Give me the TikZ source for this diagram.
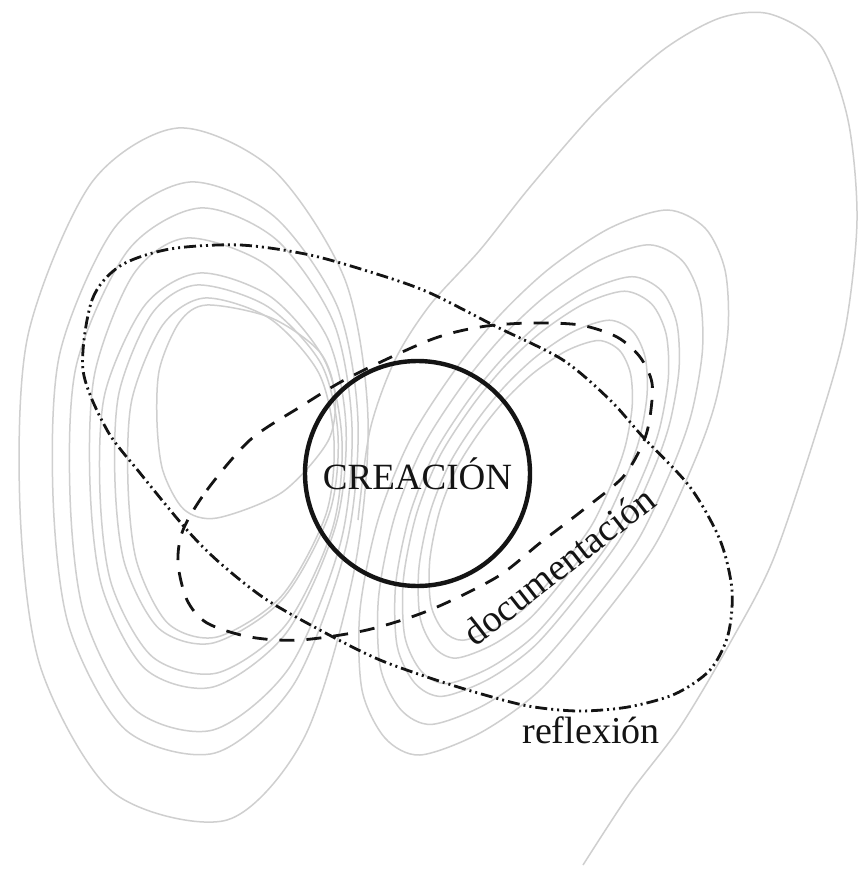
\documentclass[tikz,border=0pt]{standalone}
\usepackage{fontspec}
\setmainfont{Liberation Serif}
\begin{document}
\begin{tikzpicture}[x=1pt,y=-1pt,
  bg/.style={draw=black!19, line width=1.5pt},
  reflline/.style={draw=black!92, line width=2.8pt, dash pattern=on 12pt off 4pt on 2pt off 4pt on 2pt off 4pt},
  doculine/.style={draw=black!92, line width=2.8pt, dash pattern=on 15pt off 12pt},
  creabox/.style={circle, draw=black!92, line width=4.4pt, minimum size=225pt, inner sep=0pt},
  lbl/.style={font=\fontsize{38}{42}\selectfont, text=black!92}]
\fill[white] (0,0) rectangle (861,869);
\useasboundingbox (0,0) rectangle (861,869);

% ---- background: left wing loops
\foreach \xt/\yt/\xb/\yb/\xl/\xr in {178/128/227/820/20/368, 190/182/215/753/53/358,
   200/208/213/730/70/352, 187/238/213/687/90/346, 200/273/217/673/100/342,
   197/285/213/643/115/338, 205/298/217/637/128/334, 207/305/217/518/157/335}{
  \draw[bg] plot[smooth cycle] coordinates {
    (\xt,\yt)
    ({\xt+0.5*(\xr-\xt)},{\yt+0.06*(\yb-\yt)})
    ({\xt+0.88*(\xr-\xt)},{\yt+0.22*(\yb-\yt)})
    (\xr,{\yt+0.42*(\yb-\yt)})
    ({\xr-0.04*(\xr-\xl)},{\yt+0.64*(\yb-\yt)})
    ({\xb+0.55*(\xr-\xb)},{\yt+0.88*(\yb-\yt)})
    (\xb,\yb)
    ({\xl+0.45*(\xb-\xl)},{\yb-0.04*(\yb-\yt)})
    ({\xl+0.1*(\xb-\xl)},{\yt+0.78*(\yb-\yt)})
    (\xl,{\yt+0.55*(\yb-\yt)})
    ({\xl+0.05*(\xt-\xl)},{\yt+0.3*(\yb-\yt)})
    ({\xl+0.45*(\xt-\xl)},{\yt+0.08*(\yb-\yt)})};
}

% ---- background: right wing loops
\foreach \s in {1, 0.88, 0.77, 0.72, 0.62, 0.55}{
  \begin{scope}[shift={(515,500)}, scale=\s]
  \draw[bg] plot[smooth cycle] coordinates {
    (152,-290) (190,-272) (210,-230) (213,-170) (201,-100) (180,-40)
    (140,45) (85,120) (25,190) (-35,233) (-95,255) (-130,238) (-153,190)
    (-155,110) (-137,20) (-105,-60) (-60,-130) (-15,-185) (35,-232) (95,-272)};
  \end{scope}
}

% ---- background: big outer loop
\draw[bg] plot[smooth] coordinates {
  (583,865) (630,793) (680,727) (730,643) (773,560) (817,430) (845,330)
  (857,220) (848,120) (820,45) (770,14) (720,18) (663,50) (597,110)
  (530,187) (480,250) (430,305) (395,360) (370,430) (358,520)};

% ---- reflexion (dash dot dot)
\draw[reflline] plot[smooth cycle] coordinates {
  (83,370) (92,300) (120,266) (170,249) (240,245) (310,255) (380,275)
  (430,293) (497,327) (563,360) (610,400) (643,437) (690,487) (720,540)
  (732,590) (728,635) (710,670) (675,694) (628,707) (578,711) (528,706)
  (478,693) (430,678) (380,660) (333,637) (267,600) (220,563) (187,530)
  (140,473) (107,430)};

% ---- documentacion (dashed)
\draw[doculine] plot[smooth cycle] coordinates {
  (183,530) (207,490) (250,440) (300,407) (350,377) (430,340) (480,327)
  (530,323) (580,325) (617,337) (640,357) (652,383) (650,417) (643,443)
  (623,477) (583,510) (540,543) (497,577) (430,610) (367,630) (300,640)
  (250,637) (207,623) (187,600) (178,563)};

% ---- creacion
\node[creabox, lbl, font=\fontsize{37}{40}\selectfont] (crea) at (417.5,473.5) {CREACIÓN};

% ---- labels
\node[lbl, anchor=base, rotate=38] (docu) at (567,576) {documentación};
\node[lbl, anchor=base] (refl) at (591,743) {reflexión};
\end{tikzpicture}
\end{document}
